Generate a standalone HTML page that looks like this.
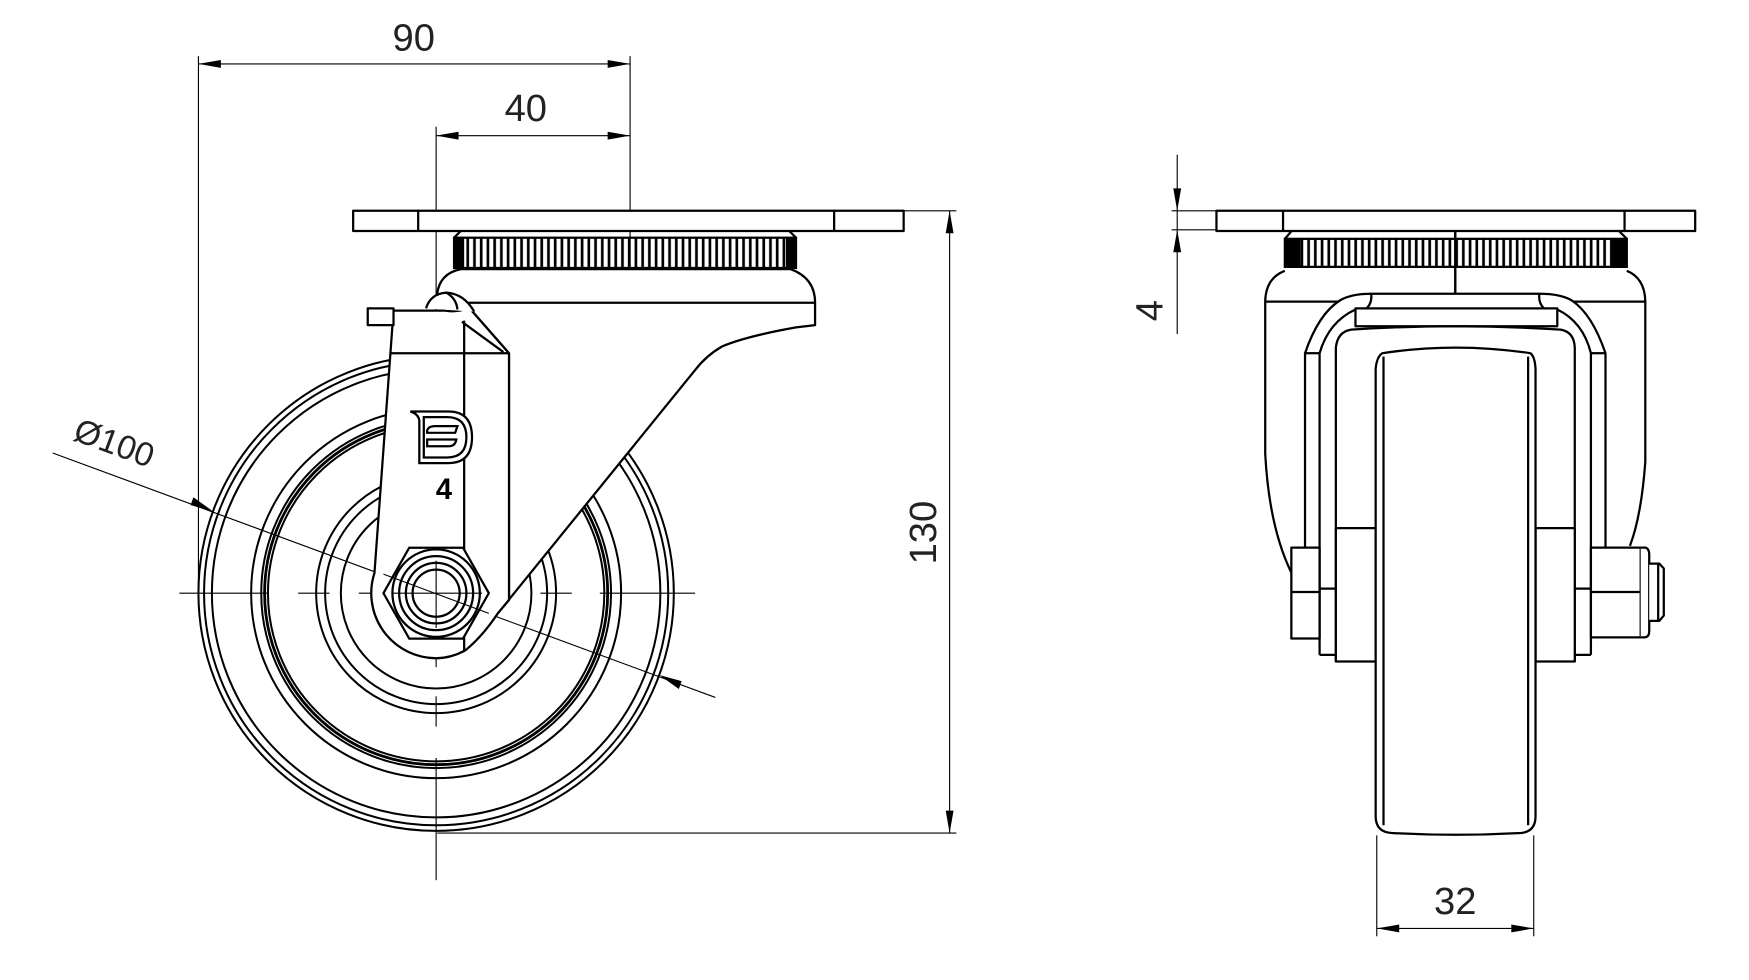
<!DOCTYPE html>
<html><head><meta charset="utf-8"><style>
html,body{margin:0;padding:0;background:#fff;}
svg{display:block;}
text{font-family:"Liberation Sans",sans-serif;fill:#222;}
</style></head><body>
<svg width="1749" height="980" viewBox="0 0 1560 874" preserveAspectRatio="none" xmlns="http://www.w3.org/2000/svg">
<defs>
<pattern id="kn" patternUnits="userSpaceOnUse" width="6" height="40" x="0" y="0">
<rect x="2" y="0" width="2.4" height="40" fill="#000"/>
</pattern>
</defs>
<rect width="1560" height="874" fill="#fff"/>

<!-- ===== LEFT VIEW: dimensions ===== -->
<g stroke="#000" stroke-width="1" fill="none">
<line x1="177" y1="50" x2="177" y2="529"/>
<line x1="562" y1="50" x2="562" y2="297"/>
<line x1="562" y1="309" x2="562" y2="324"/>
<line x1="562" y1="336" x2="562" y2="381"/>
<line x1="177" y1="57" x2="562" y2="57"/>
<line x1="389" y1="121" x2="562" y2="121"/>
<line x1="389" y1="113" x2="389" y2="300"/>
<line x1="389" y1="461" x2="389" y2="595"/>
<line x1="389" y1="621" x2="389" y2="648"/>
<line x1="389" y1="676" x2="389" y2="785"/>
<line x1="806" y1="188" x2="853" y2="188"/>
<line x1="390" y1="743" x2="853" y2="743"/>
<line x1="847" y1="188" x2="847" y2="743"/>
<line x1="47" y1="404" x2="638" y2="622"/>
<!-- horizontal centre line -->
<line x1="160" y1="529" x2="240" y2="529"/>
<line x1="266" y1="529" x2="294" y2="529"/>
<line x1="320" y1="529" x2="435" y2="529"/>
<line x1="482" y1="529" x2="510" y2="529"/>
<line x1="535" y1="529" x2="620" y2="529"/>
</g>
<g fill="#000">
<polygon points="177,57 197,53.5 197,60.5"/>
<polygon points="562,57 542,53.5 542,60.5"/>
<polygon points="389,121 409,117.5 409,124.5"/>
<polygon points="562,121 542,117.5 542,124.5"/>
<polygon points="847,188 843.5,208 850.5,208"/>
<polygon points="847,743 843.5,723 850.5,723"/>
<polygon points="190,456 172.5,443.5 170,450.5" transform="rotate(0)"/>
<polygon points="588,602 605.5,614.5 608,607.5"/>
</g>
<text x="369" y="45" font-size="34" text-anchor="middle">90</text>
<text x="469" y="108" font-size="34" text-anchor="middle">40</text>
<text transform="translate(835,475) rotate(-90)" font-size="34" text-anchor="middle">130</text>
<text transform="translate(64,392) rotate(20.2)" font-size="30">Ø100</text>

<!-- ===== wheel ===== -->
<g stroke="#000" stroke-width="1.8" fill="none">
<circle cx="389" cy="529" r="212"/>
<circle cx="389" cy="529" r="207"/>
<circle cx="389" cy="529" r="200"/>
<circle cx="389" cy="529" r="165"/>
<circle cx="389" cy="529" r="156"/>
<circle cx="389" cy="529" r="153" stroke-width="2.5"/>
<circle cx="389" cy="529" r="150"/>
<circle cx="389" cy="529" r="107"/>
<circle cx="389" cy="529" r="99"/>
<circle cx="389" cy="529" r="85"/>
</g>

<!-- ===== bracket body ===== -->
<g stroke="#000" stroke-width="2" stroke-linejoin="round">
<path d="M390 262 Q392 244 411 240 L705 240 Q727 248 727 270 L727 290 L710 292 Q665 300 644 309 Q630 317 620 330 L444 547 L454 535 L454 315 L418 274 Z" fill="#fff"/>
<line x1="418" y1="270" x2="727" y2="270"/>
<!-- leg -->
<path d="M351 277 L397 277 Q410 279 418 274 L454 315 L454 535 L444 547 Q430 568 415 580 Q402 587 389 587 A58 58 0 0 1 334 511 Z" fill="#fff"/>
<line x1="414" y1="286" x2="414" y2="580" fill="none"/>
<line x1="348" y1="315" x2="454" y2="315"/>
<path d="M412 287 L449 314" fill="none"/>
<rect x="328" y="275" width="23" height="15" fill="#fff"/>
<path d="M380 275 Q384 262 398 261 Q414 262 423 278" fill="#fff"/>
<path d="M398 261 Q407 266 408 276" fill="none"/>
<!-- plate -->
<rect x="315" y="188" width="491" height="18" fill="#fff"/>
<line x1="373" y1="188" x2="373" y2="206"/>
<line x1="744" y1="188" x2="744" y2="206"/>
<path d="M411 206 L405 212 M704 206 L710 212" fill="none"/>
</g>
<!-- knurled ring left -->
<rect x="405" y="212" width="305" height="27" fill="url(#kn)"/>
<rect x="405" y="212" width="305" height="27" fill="none" stroke="#000" stroke-width="2"/>
<rect x="405" y="212" width="9" height="27" fill="#000"/>
<rect x="701" y="212" width="9" height="27" fill="#000"/>
<line x1="405" y1="225" x2="710" y2="225" stroke="#fff" stroke-width="0"/>

<!-- logo -->
<g stroke="#000" stroke-width="2" fill="#fff">
<path d="M366 367 L400 367 Q421 367 421 390 Q421 413 400 413 L374 413 L374 375 Q373 369 366 367 Z"/>
<path d="M378 372 L399 372 Q416 372 416 390 Q416 408 399 408 L378 408 Z"/>
<path d="M381 384 Q382 380 388 380 L408 380 L406 386 L381 386 Z"/>
<path d="M381 392 L407 392 Q406 398 400 398 L381 398 Z"/>
</g>
<text x="396" y="445" font-size="26" font-weight="bold" text-anchor="middle" style="fill:#000">4</text>

<!-- hex nut -->
<g stroke="#000" stroke-width="2" fill="#fff">
<polygon points="342,529 365,488.5 413,488.5 436,529 413,569.5 365,569.5"/>
<circle cx="389" cy="529" r="39" fill="none"/>
<circle cx="389" cy="529" r="33" fill="none"/>
<circle cx="389" cy="529" r="27" fill="none"/>
<circle cx="389" cy="529" r="21" fill="none"/>
</g>
<line x1="342" y1="512" x2="436" y2="547" stroke="#000" stroke-width="1"/>
<line x1="389" y1="500" x2="389" y2="560" stroke="#000" stroke-width="1"/>
<line x1="350" y1="529" x2="430" y2="529" stroke="#000" stroke-width="1"/>

<!-- ===== RIGHT VIEW ===== -->
<g stroke="#000" stroke-width="1" fill="none">
<line x1="1050" y1="138" x2="1050" y2="298"/>
<line x1="1045" y1="188" x2="1085" y2="188"/>
<line x1="1045" y1="205" x2="1085" y2="205"/>
<line x1="1228" y1="745" x2="1228" y2="835"/>
<line x1="1368" y1="745" x2="1368" y2="835"/>
<line x1="1228" y1="828" x2="1368" y2="828"/>
</g>
<g fill="#000">
<polygon points="1050,188 1046.5,168 1053.5,168"/>
<polygon points="1050,205 1046.5,225 1053.5,225"/>
<polygon points="1228,828 1248,824.5 1248,831.5"/>
<polygon points="1368,828 1348,824.5 1348,831.5"/>
</g>
<text transform="translate(1037,277) rotate(-90)" font-size="34" text-anchor="middle">4</text>
<text x="1298" y="815" font-size="34" text-anchor="middle">32</text>

<g stroke="#000" stroke-width="2" fill="none" stroke-linejoin="round">
<!-- housing -->
<path d="M1146 241.5 Q1129 248 1128.5 268.6 L1128.5 405 Q1132 470 1151.8 510.7"/>
<path d="M1451 241.5 Q1467 248 1467.5 268.6 L1467.5 412 Q1464 460 1453.8 486.8"/>
<line x1="1128.5" y1="269" x2="1467.5" y2="269"/>
<line x1="1298" y1="206" x2="1298" y2="262"/>
<!-- yoke -->
<path d="M1164 489 L1164 315 Q1176 280 1195 268 Q1205 262 1223 262 L1373 262 Q1392 262 1402 268 Q1420 280 1432 315 L1432 489" fill="#fff"/>
<path d="M1177 584 L1177 315 Q1185 287 1209 276 M1389 276 Q1412 287 1419 315 L1419 584"/>
<rect x="1209" y="275" width="180" height="16" fill="#fff"/>
<path d="M1223 262 Q1224 270 1219 275 M1373 262 Q1372 270 1377 275"/>
<line x1="1164" y1="315" x2="1177" y2="315"/>
<line x1="1419" y1="315" x2="1432" y2="315"/>
<path d="M1191.5 590 L1191.5 310 Q1193 296 1205 294 Q1298 288 1392 294 Q1404 296 1404.6 310 L1404.6 590"/>
<line x1="1177" y1="584" x2="1191.5" y2="584"/>
<line x1="1404.6" y1="584" x2="1419" y2="584"/>
<line x1="1177" y1="525" x2="1191.5" y2="525"/>
<line x1="1404.6" y1="525" x2="1419" y2="525"/>
<!-- bosses -->
<rect x="1191.5" y="471" width="35.5" height="119" fill="#fff"/>
<rect x="1369.6" y="471" width="35" height="119" fill="#fff"/>
<!-- bolt head -->
<rect x="1151.8" y="488.4" width="25.2" height="81" fill="#fff"/>
<line x1="1151.8" y1="528" x2="1177" y2="528"/>
<!-- nut -->
<rect x="1419" y="488.4" width="44.4" height="80" fill="#fff"/>
<line x1="1419" y1="528" x2="1463.4" y2="528"/>
<path d="M1463.4 488.4 L1468 488.4 Q1471 490 1471 494 L1471 563 Q1471 568 1467 568.4 L1463.4 568.4" fill="#fff"/>
<path d="M1471 502.7 L1480 502.7 L1484 507 L1484 549 L1480 553.7 L1471 553.7" fill="#fff"/>
<line x1="1479" y1="503" x2="1479" y2="553"/>
<!-- wheel front -->
<path d="M1227 329 Q1228 318 1233 315 Q1298 305 1365 315 Q1369 318 1369.6 329 L1369.6 728 Q1369.6 743 1354 743 Q1298 746 1243 743 Q1227 743 1227 728 Z" fill="#fff"/>
<line x1="1234" y1="318" x2="1234" y2="736"/>
<line x1="1363" y1="318" x2="1363" y2="736"/>
<!-- plate -->
<rect x="1085" y="188" width="427" height="18" fill="#fff"/>
<line x1="1144.4" y1="188" x2="1144.4" y2="206"/>
<line x1="1449" y1="188" x2="1449" y2="206"/>
<path d="M1152 206 L1146 213 M1444 206 L1451 213"/>
</g>
<rect x="1146" y="213" width="305" height="25" fill="url(#kn)"/>
<rect x="1146" y="213" width="305" height="25" fill="none" stroke="#000" stroke-width="2"/>
<rect x="1146" y="213" width="14" height="25" fill="#000"/>
<rect x="1437" y="213" width="14" height="25" fill="#000"/>
<line x1="1298" y1="206" x2="1298" y2="262" stroke="#000" stroke-width="2"/>
</svg>
</body></html>
